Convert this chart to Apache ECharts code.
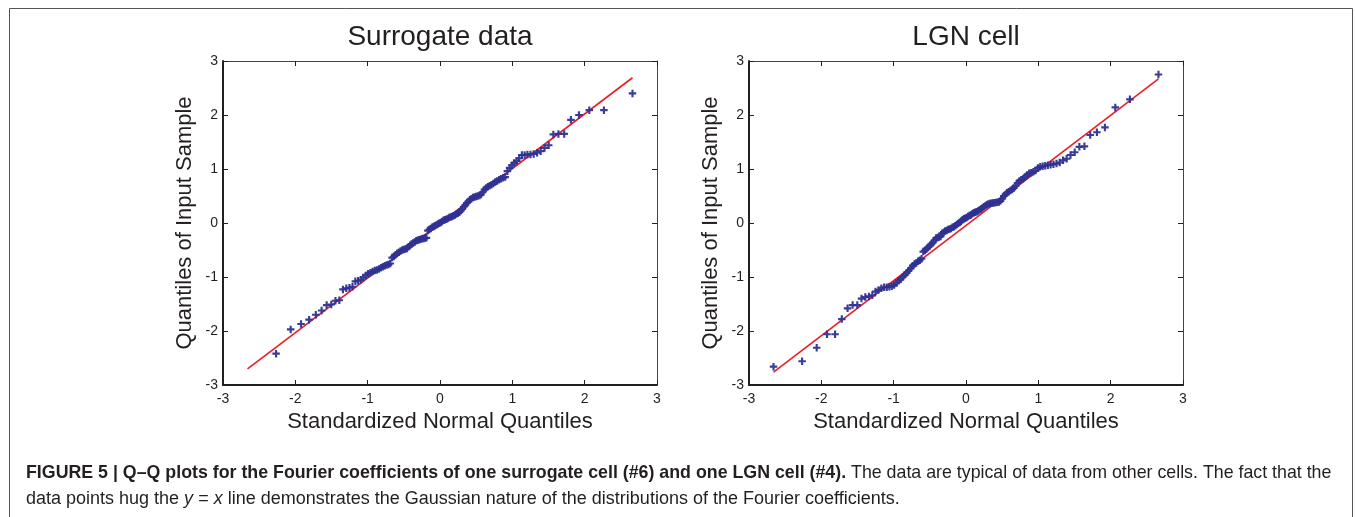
<!DOCTYPE html>
<html><head><meta charset="utf-8">
<script src="https://cdn.jsdelivr.net/npm/echarts@6/dist/echarts.min.js"></script>
<style>html,body{margin:0;padding:0;background:#fff}#c{width:1355px;height:517px}</style>
</head><body><div id="c"></div>
<script>
// Standard normal quantiles (x positions, n = 128)
const xq = [-2.661,-2.266,-2.064,-1.921,-1.810,-1.717,-1.637,-1.567,-1.503,-1.445,-1.392,-1.342,-1.295,-1.251,-1.209,-1.170,-1.132,-1.095,-1.060,-1.026,-0.994,-0.962,-0.932,-0.902,-0.873,-0.844,-0.817,-0.790,-0.763,-0.737,-0.712,-0.687,-0.662,-0.638,-0.614,-0.591,-0.568,-0.545,-0.522,-0.500,-0.478,-0.456,-0.434,-0.413,-0.392,-0.371,-0.350,-0.329,-0.308,-0.288,-0.268,-0.247,-0.227,-0.207,-0.187,-0.167,-0.147,-0.128,-0.108,-0.088,-0.069,-0.049,-0.029,-0.010,
0.010,0.029,0.049,0.069,0.088,0.108,0.128,0.147,0.167,0.187,0.207,0.227,0.247,0.268,0.288,0.308,0.329,0.350,0.371,0.392,0.413,0.434,0.456,0.478,0.500,0.522,0.545,0.568,0.591,0.614,0.638,0.662,0.687,0.712,0.737,0.763,0.790,0.817,0.844,0.873,0.902,0.932,0.962,0.994,1.026,1.060,1.095,1.132,1.170,1.209,1.251,1.295,1.342,1.392,1.445,1.503,1.567,1.637,1.717,1.810,1.921,2.064,2.266,2.661];

// Surrogate data sample quantiles
const ySurrogate = [-3.15,-2.42,-1.97,-1.87,-1.79,-1.70,-1.62,-1.52,-1.51,-1.44,
-1.43,-1.23,-1.21,-1.20,-1.18,-1.08,-1.07,-1.05,-1.01,-0.97,
-0.94,-0.92,-0.90,-0.88,-0.87,-0.85,-0.83,-0.81,-0.79,-0.78,
-0.77,-0.75,-0.64,-0.62,-0.59,-0.56,-0.54,-0.52,-0.50,-0.49,
-0.48,-0.47,-0.44,-0.41,-0.39,-0.37,-0.35,-0.33,-0.32,-0.31,
-0.30,-0.29,-0.285,-0.28,-0.275,-0.14,-0.12,-0.10,-0.08,-0.065,
-0.05,-0.035,-0.02,-0.005,0.01,0.03,0.05,0.06,0.07,0.085,
0.10,0.11,0.12,0.135,0.15,0.165,0.18,0.20,0.23,0.26,
0.30,0.33,0.37,0.40,0.43,0.45,0.47,0.48,0.49,0.50,
0.51,0.53,0.57,0.62,0.65,0.67,0.69,0.71,0.73,0.76,
0.78,0.80,0.82,0.84,0.85,0.96,1.02,1.07,1.11,1.15,
1.20,1.26,1.26,1.27,1.27,1.28,1.30,1.33,1.39,1.44,
1.64,1.65,1.65,1.91,2.00,2.09,2.09,2.40];

// LGN cell sample quantiles
const yLGN = [-2.66,-2.56,-2.31,-2.06,-2.06,-1.78,-1.58,-1.52,-1.52,-1.40,
-1.37,-1.36,-1.34,-1.27,-1.24,-1.21,-1.19,-1.19,-1.18,-1.17,
-1.15,-1.11,-1.07,-1.04,-1.00,-0.96,-0.92,-0.88,-0.84,-0.79,
-0.76,-0.74,-0.71,-0.69,-0.66,-0.53,-0.51,-0.48,-0.45,-0.42,
-0.39,-0.36,-0.32,-0.28,-0.27,-0.26,-0.25,-0.19,-0.17,-0.15,
-0.14,-0.12,-0.11,-0.10,-0.08,-0.07,-0.05,-0.03,-0.01,0.01,
0.03,0.06,0.08,0.09,0.10,0.12,0.14,0.15,0.17,0.19,
0.20,0.21,0.22,0.24,0.26,0.28,0.30,0.32,0.34,0.35,
0.36,0.365,0.37,0.375,0.38,0.385,0.39,0.41,0.45,0.50,
0.53,0.56,0.58,0.60,0.62,0.65,0.69,0.74,0.78,0.80,
0.82,0.85,0.89,0.92,0.93,0.95,0.97,1.02,1.04,1.05,
1.06,1.07,1.08,1.09,1.10,1.12,1.16,1.19,1.26,1.31,
1.41,1.42,1.63,1.68,1.77,2.14,2.29,2.75];

// Reference lines (end points)
const refX = [-2.661, 2.661];
const refSurrogateY = [-2.70, 2.69];
const refLGNY = [-2.76, 2.67];

const tickValues = [-3,-2,-1,0,1,2,3];
const titles = ['Surrogate data', 'LGN cell'];
const xName = 'Standardized Normal Quantiles';
const yName = 'Quantiles of Input Sample';
const captionBold = 'FIGURE 5 | Q–Q plots for the Fourier coefficients of one surrogate cell (#6) and one LGN cell (#4).';
const captionRest1 = ' The data are typical of data from other cells. The fact that the';
const captionLine2a = 'data points hug the ';
const captionLine2b = ' line demonstrates the Gaussian nature of the distributions of the Fourier coefficients.';

const FONT = '"Liberation Sans", Arial, Helvetica, sans-serif';
const NARROW = '"Liberation Sans Narrow", ' + FONT;
const INK = '#231f20';
const BLUE = '#2e3192';
const RED = '#ed1c24';
const PLUS = 'path://M2.5,0H4.5V2.5H7V4.5H4.5V7H2.5V4.5H0V2.5H2.5Z';

const grids = [
  {left: 223, top: 61, width: 434, height: 324},
  {left: 749, top: 61, width: 434, height: 324}
];
const tmin = tickValues[0], tmax = tickValues[tickValues.length - 1];

const xAxes = [], yAxes = [];
grids.forEach((g, gi) => {
  const base = {type: 'value', gridIndex: gi, min: tmin, max: tmax, interval: 1, splitLine: {show: false}};
  xAxes.push(Object.assign({}, base, {
    position: 'bottom',
    axisLine: {show: true, onZero: false, lineStyle: {color: INK, width: 2}},
    axisTick: {show: true, inside: true, length: 5, lineStyle: {color: INK, width: 1}},
    axisLabel: {show: true, fontSize: 14, color: INK, margin: 7, fontFamily: FONT, showMinLabel: true, showMaxLabel: true},
    name: xName, nameLocation: 'middle', nameGap: 15,
    nameTextStyle: {fontSize: 22, color: INK, fontFamily: FONT}
  }));
  xAxes.push(Object.assign({}, base, {
    position: 'top',
    axisLine: {show: true, onZero: false, lineStyle: {color: '#444', width: 1}},
    axisTick: {show: true, inside: true, length: 5, lineStyle: {color: INK, width: 1}},
    axisLabel: {show: false}
  }));
  yAxes.push(Object.assign({}, base, {
    position: 'left',
    axisLine: {show: true, onZero: false, lineStyle: {color: INK, width: 2}},
    axisTick: {show: true, inside: true, length: 5, lineStyle: {color: INK, width: 1}},
    axisLabel: {show: true, fontSize: 14, color: INK, margin: 5, fontFamily: FONT, showMinLabel: true, showMaxLabel: true},
    name: yName, nameLocation: 'middle', nameGap: 27, nameRotate: 90,
    nameTextStyle: {fontSize: 22, color: INK, fontFamily: FONT}
  }));
  yAxes.push(Object.assign({}, base, {
    position: 'right',
    axisLine: {show: true, onZero: false, lineStyle: {color: '#444', width: 1}},
    axisTick: {show: true, inside: true, length: 5, lineStyle: {color: INK, width: 1}},
    axisLabel: {show: false}
  }));
});

function pairs(xs, ys) { return xs.map((x, i) => [x, ys[i]]); }

const samples = [ySurrogate, yLGN];
const refs = [refSurrogateY, refLGNY];
const series = [];
samples.forEach((ys, gi) => {
  series.push({
    type: 'line', xAxisIndex: gi * 2, yAxisIndex: gi * 2,
    data: pairs(refX, refs[gi]), symbol: 'none', silent: true, z: 2,
    lineStyle: {color: RED, width: 1.6}
  });
  series.push({
    type: 'scatter', xAxisIndex: gi * 2, yAxisIndex: gi * 2,
    data: pairs(xq, ys), symbol: PLUS, symbolSize: 7.5, clip: true, z: 3,
    itemStyle: {color: BLUE, opacity: 0.95}
  });
});

const graphic = [
  {type: 'rect', silent: true, shape: {x: 9.5, y: 8.5, width: 1343, height: 530},
   style: {fill: 'none', stroke: '#555', lineWidth: 1}},
  {type: 'text', x: 440, y: 37, style: {text: titles[0], fontSize: 28, fontFamily: FONT, fill: INK, align: 'center', verticalAlign: 'middle'}},
  {type: 'text', x: 966, y: 37, style: {text: titles[1], fontSize: 28, fontFamily: FONT, fill: INK, align: 'center', verticalAlign: 'middle'}},
  {type: 'text', x: 26, y: 473, style: {
    text: '{b|' + captionBold + '}{n|' + captionRest1 + '}',
    verticalAlign: 'middle',
    rich: {
      b: {fontSize: 17.8, fontWeight: 'bold', fontFamily: NARROW, fill: INK},
      n: {fontSize: 17.8, fontFamily: NARROW, fill: INK}
    }}},
  {type: 'text', x: 26, y: 499, style: {
    text: '{n|' + captionLine2a + '}{i|y}{n| = }{i|x}{n|' + captionLine2b + '}',
    verticalAlign: 'middle',
    rich: {
      n: {fontSize: 18, fontFamily: NARROW, fill: INK},
      i: {fontSize: 18, fontStyle: 'italic', fontFamily: NARROW, fill: INK}
    }}}
];

const chart = echarts.init(document.getElementById('c'), null, {renderer: 'canvas'});
chart.setOption({
  animation: false,
  backgroundColor: '#fff',
  grid: grids,
  xAxis: xAxes,
  yAxis: yAxes,
  series: series,
  graphic: graphic
});
</script>
</body></html>
